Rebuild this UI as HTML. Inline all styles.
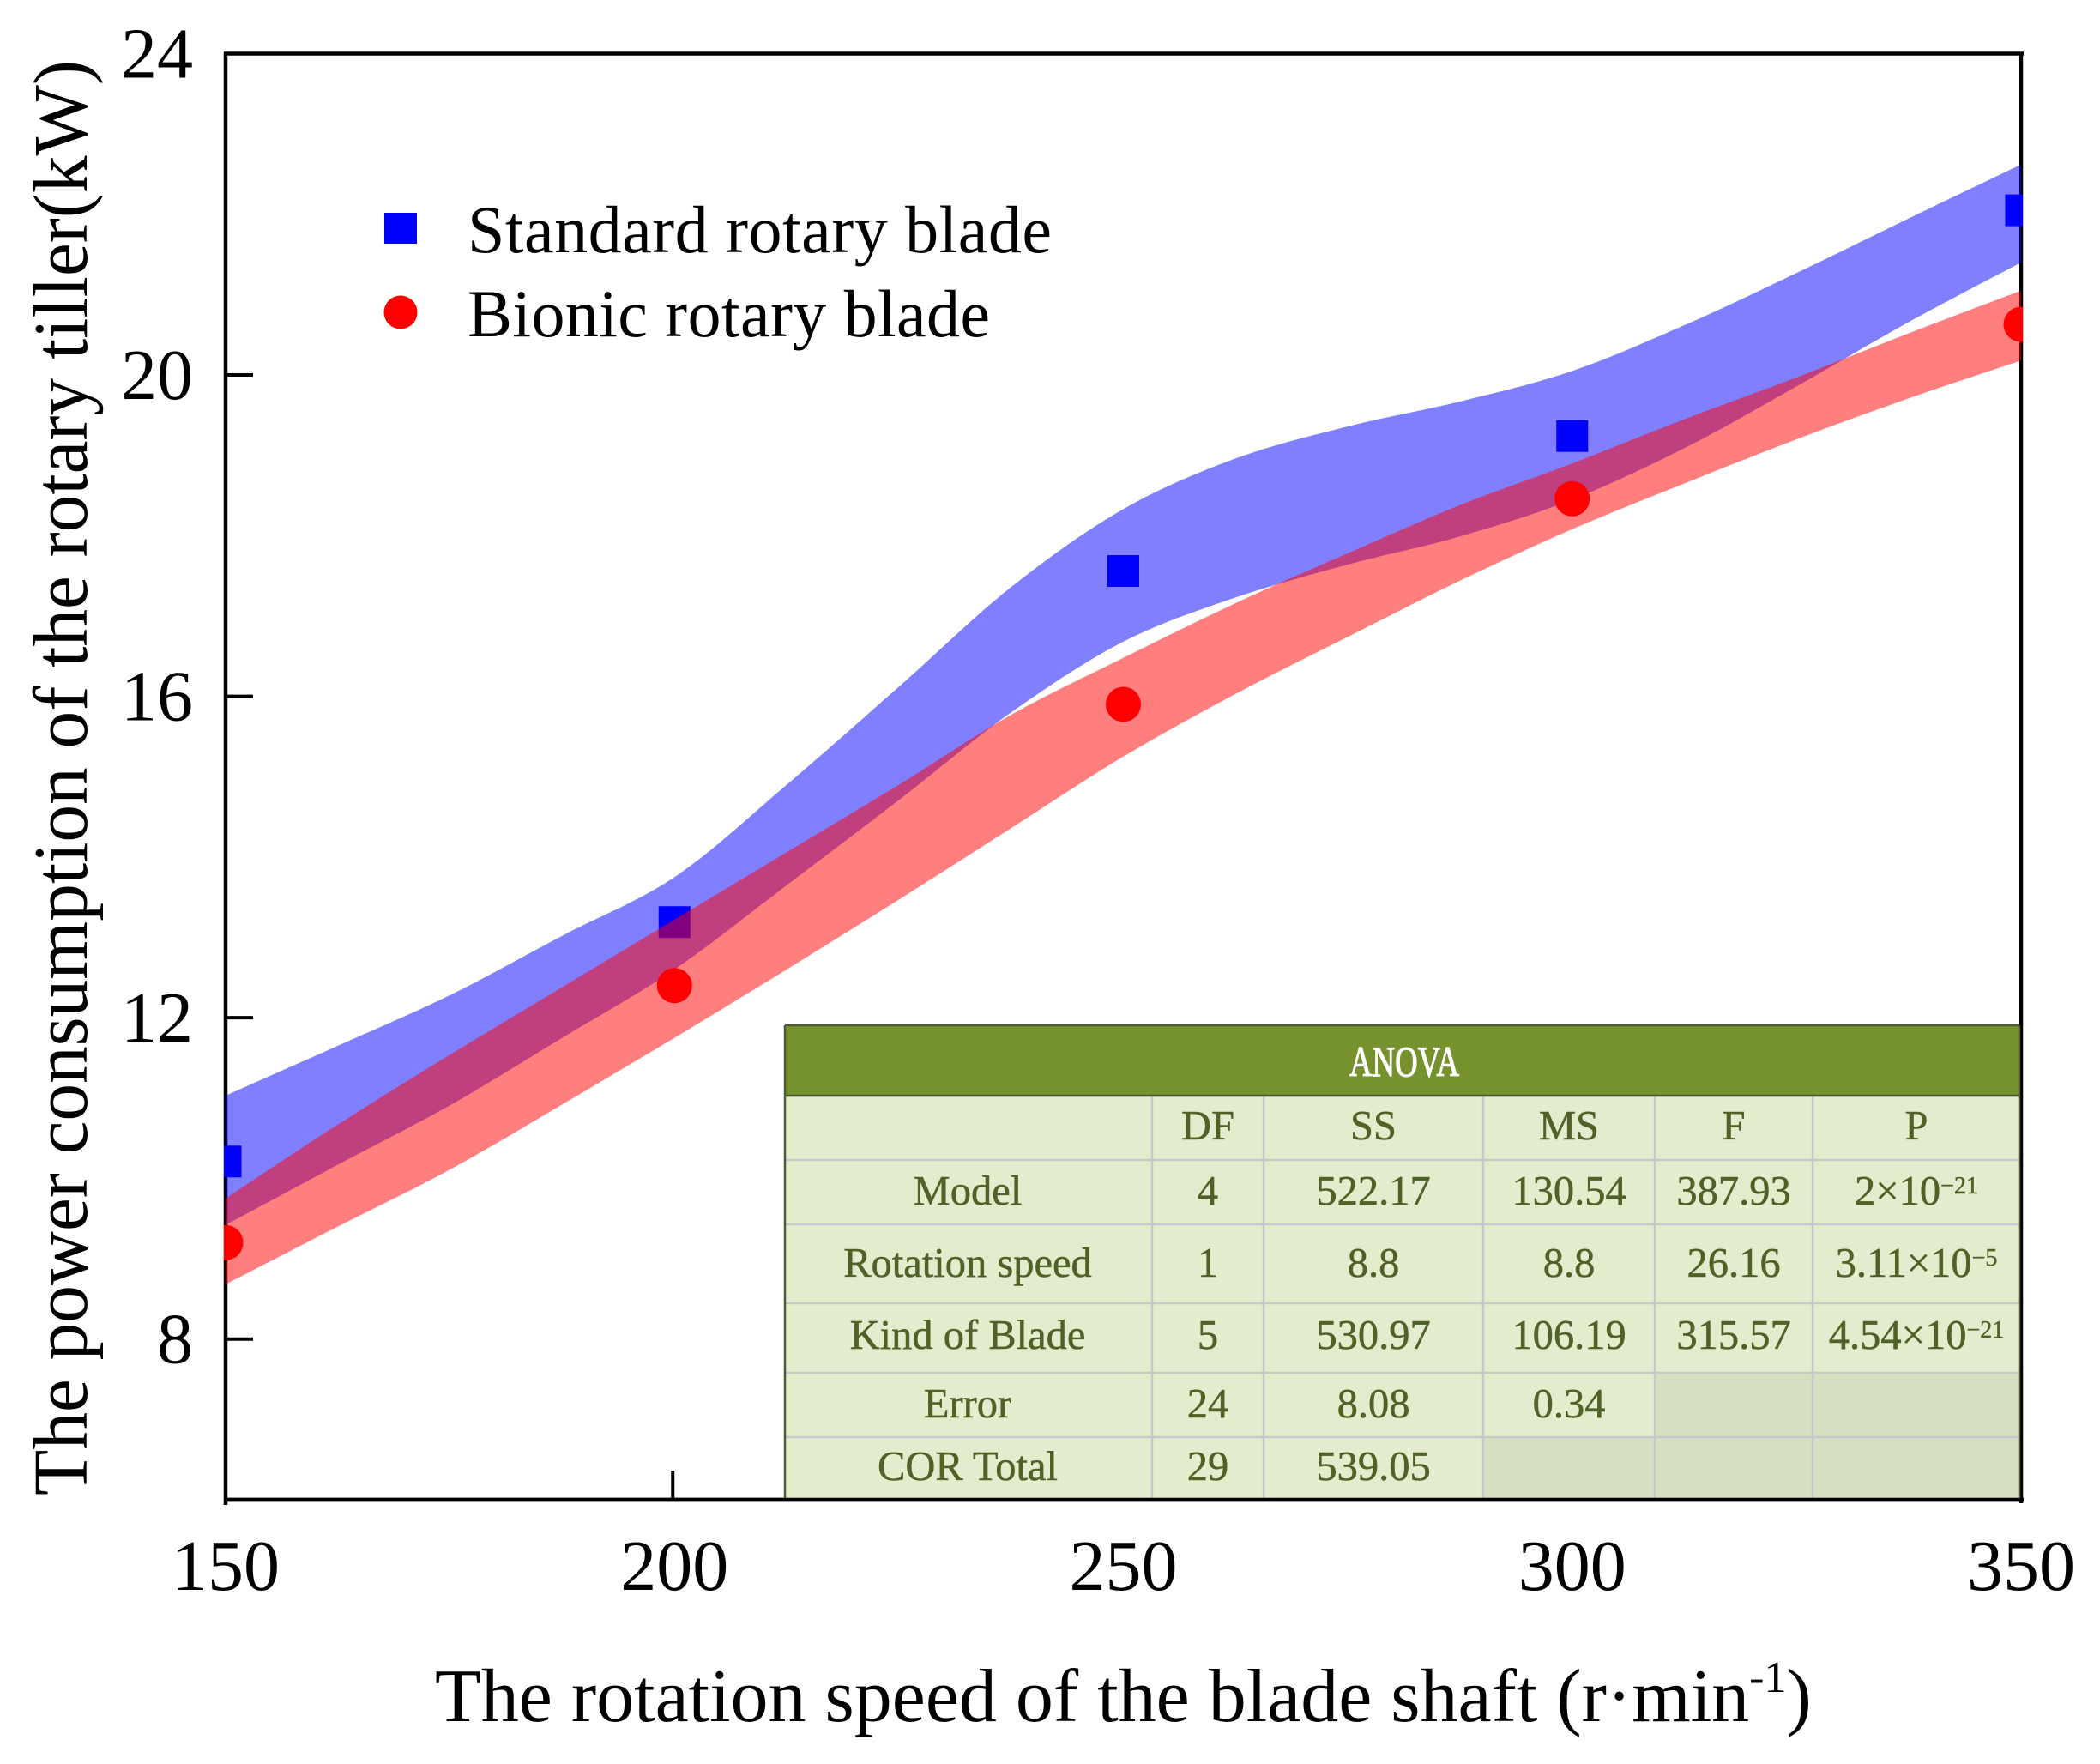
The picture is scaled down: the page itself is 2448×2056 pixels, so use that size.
<!DOCTYPE html>
<html lang="en">
<head>
<meta charset="utf-8">
<title>Power consumption of the rotary tiller</title>
<style>
  html, body { margin: 0; padding: 0; background: #fff; }
  svg { display: block; }
  text { font-family: "Liberation Serif", serif; }
  .tick-label { font-size: 84px; fill: #000; }
  .cell { font-size: 48.5px; fill: #4f6228; stroke: #4f6228; stroke-width: 0.5; text-anchor: middle; }
  .sup { font-size: 28px; }
</style>
</head>
<body>
<svg id="chart" xmlns="http://www.w3.org/2000/svg" width="2448" height="2056" viewBox="0 0 2448 2056">
  <defs>
    <clipPath id="plot-clip"><rect x="261" y="60" width="2097" height="1690"></rect></clipPath>
  </defs>
  <rect x="0" y="0" width="2448" height="2056" fill="#ffffff"></rect>
  <g id="axes"></g>
  <g id="marks" clip-path="url(#plot-clip)"></g>

  <g>
    <rect x="448" y="248" width="38" height="36" fill="#0000ff"></rect>
    <text x="545" y="294" font-size="78" textLength="681" fill="#000">Standard rotary blade</text>
    <ellipse cx="467" cy="364" rx="19.5" ry="19.5" fill="#ff0000"></ellipse>
    <text x="545" y="392" font-size="78" textLength="609" fill="#000">Bionic rotary blade</text>
  </g>

  <text x="507" y="2006" font-size="88" fill="#000">The rotation speed of the blade shaft (r·min<tspan font-size="52" dy="-34">-1</tspan><tspan dy="34">)</tspan></text>
  <text transform="translate(101,1743) rotate(-90)" x="0" y="0" font-size="90" textLength="1673" lengthAdjust="spacingAndGlyphs" fill="#000">The power consumption of the rotary tiller(kW)</text>

  <g>
    <rect x="915" y="1277" width="1439" height="470" fill="#e3edcd"></rect>
    <rect x="1929" y="1600" width="184" height="75" fill="#d6dfc2"></rect>
    <rect x="2113" y="1600" width="241" height="75" fill="#d6dfc2"></rect>
    <rect x="1729" y="1675" width="200" height="72" fill="#d6dfc2"></rect>
    <rect x="1929" y="1675" width="184" height="72" fill="#d6dfc2"></rect>
    <rect x="2113" y="1675" width="241" height="72" fill="#d6dfc2"></rect>
    <rect x="915" y="1195" width="1439" height="82" fill="#76922d"></rect>
    <g stroke="#c5c9c8" stroke-width="2.5">
      <line x1="915" x2="2354" y1="1352" y2="1352"></line>
      <line x1="915" x2="2354" y1="1427" y2="1427"></line>
      <line x1="915" x2="2354" y1="1519" y2="1519"></line>
      <line x1="915" x2="2354" y1="1600" y2="1600"></line>
      <line x1="915" x2="2354" y1="1675" y2="1675"></line>
      <line x1="1343" x2="1343" y1="1277" y2="1747"></line>
      <line x1="1473" x2="1473" y1="1277" y2="1747"></line>
      <line x1="1729" x2="1729" y1="1277" y2="1747"></line>
      <line x1="1929" x2="1929" y1="1277" y2="1747"></line>
      <line x1="2113" x2="2113" y1="1277" y2="1747"></line>
    </g>
    <g stroke="#4f5a38" fill="none">
      <line x1="915" x2="2354" y1="1195" y2="1195" stroke-width="2.5"></line>
      <line x1="915" x2="2354" y1="1277" y2="1277" stroke-width="2.5"></line>
      <line x1="915" x2="915" y1="1195" y2="1747" stroke-width="2.5"></line>
      <line x1="2354" x2="2354" y1="1195" y2="1747" stroke-width="2.5"></line>
    </g>
    <text x="1637" y="1254" font-size="50" textLength="128" lengthAdjust="spacingAndGlyphs" text-anchor="middle" fill="#ffffff" stroke="#ffffff" stroke-width="1.2">ANOVA</text>

    <g>
      <text class="cell" x="1408" y="1328">DF</text>
      <text class="cell" x="1601" y="1328">SS</text>
      <text class="cell" x="1829" y="1328">MS</text>
      <text class="cell" x="2021" y="1328">F</text>
      <text class="cell" x="2234" y="1328">P</text>
    </g>
    <g>
      <text class="cell" x="1128" y="1404">Model</text>
      <text class="cell" x="1408" y="1404">4</text>
      <text class="cell" x="1601" y="1404">522.17</text>
      <text class="cell" x="1829" y="1404">130.54</text>
      <text class="cell" x="2021" y="1404">387.93</text>
      <text class="cell" x="2234" y="1404">2×10<tspan class="sup" dy="-13">−21</tspan></text>
    </g>
    <g>
      <text class="cell" x="1128" y="1488">Rotation speed</text>
      <text class="cell" x="1408" y="1488">1</text>
      <text class="cell" x="1601" y="1488">8.8</text>
      <text class="cell" x="1829" y="1488">8.8</text>
      <text class="cell" x="2021" y="1488">26.16</text>
      <text class="cell" x="2234" y="1488">3.11×10<tspan class="sup" dy="-13">−5</tspan></text>
    </g>
    <g>
      <text class="cell" x="1128" y="1572">Kind of Blade</text>
      <text class="cell" x="1408" y="1572">5</text>
      <text class="cell" x="1601" y="1572">530.97</text>
      <text class="cell" x="1829" y="1572">106.19</text>
      <text class="cell" x="2021" y="1572">315.57</text>
      <text class="cell" x="2234" y="1572">4.54×10<tspan class="sup" dy="-13">−21</tspan></text>
    </g>
    <g>
      <text class="cell" x="1128" y="1652">Error</text>
      <text class="cell" x="1408" y="1652">24</text>
      <text class="cell" x="1601" y="1652">8.08</text>
      <text class="cell" x="1829" y="1652">0.34</text>
    </g>
    <g>
      <text class="cell" x="1128" y="1725">COR Total</text>
      <text class="cell" x="1408" y="1725">29</text>
      <text class="cell" x="1601" y="1725">539.05</text>
    </g>
  </g>
  <g id="frame-top"></g>
</svg>

<script>
// Axis tick labels
const xTicks = [150, 200, 250, 300, 350];
const yTicks = [8, 12, 16, 20, 24];

// Measured means
const pointSpeeds = [150, 200, 250, 300, 350];
const standardValues = [10.21, 13.19, 17.56, 19.24, 22.05];
const bionicValues = [9.2, 12.4, 15.9, 18.46, 20.63];

// Confidence bands
const bandSpeeds = [150, 162.5, 175, 187.5, 200, 212.5, 225, 237.5, 250, 262.5, 275, 287.5, 300, 312.5, 325, 337.5, 350];
const standardUpper = [11.03, 11.65, 12.28, 13.02, 13.75, 14.90, 16.12, 17.36, 18.33, 18.96, 19.36, 19.67, 20.05, 20.62, 21.27, 21.95, 22.62];
const standardLower = [9.42, 10.17, 10.91, 11.75, 12.60, 13.65, 14.71, 15.80, 16.68, 17.23, 17.64, 17.99, 18.45, 19.09, 19.86, 20.66, 21.40];
const bionicUpper = [9.75, 10.67, 11.54, 12.38, 13.22, 14.06, 14.90, 15.77, 16.48, 17.16, 17.78, 18.38, 18.90, 19.45, 19.97, 20.52, 21.05];
const bionicLower = [8.68, 9.40, 10.11, 10.92, 11.75, 12.60, 13.47, 14.36, 15.25, 16.03, 16.74, 17.44, 18.08, 18.65, 19.20, 19.71, 20.18];

// Axis domains
const xDomain = [150, 350];
const yDomain = [6, 24];

const plot = { left: 263, right: 2356, top: 62.5, bottom: 1748 };
function xScale(v) {
  return plot.left + (v - xDomain[0]) / (xDomain[1] - xDomain[0]) * (plot.right - plot.left);
}
function yScale(v) {
  return plot.bottom - (v - yDomain[0]) / (yDomain[1] - yDomain[0]) * (plot.bottom - plot.top);
}

const NS = 'http://www.w3.org/2000/svg';
function make(tag, parent, props) {
  const el = document.createElementNS(NS, tag);
  for (const k in props) el.setAttribute(k, props[k]);
  parent.appendChild(el);
  return el;
}

function smoothSegments(pts) {
  let d = '';
  for (let i = 0; i < pts.length - 1; i++) {
    const p0 = pts[Math.max(i - 1, 0)];
    const p1 = pts[i];
    const p2 = pts[i + 1];
    const p3 = pts[Math.min(i + 2, pts.length - 1)];
    const c1x = p1[0] + (p2[0] - p0[0]) / 6;
    const c1y = p1[1] + (p2[1] - p0[1]) / 6;
    const c2x = p2[0] - (p3[0] - p1[0]) / 6;
    const c2y = p2[1] - (p3[1] - p1[1]) / 6;
    d += ' C' + c1x.toFixed(1) + ' ' + c1y.toFixed(1) + ' ' + c2x.toFixed(1) + ' ' + c2y.toFixed(1) + ' ' + p2[0].toFixed(1) + ' ' + p2[1].toFixed(1);
  }
  return d;
}

function bandPath(upper, lower) {
  const top = bandSpeeds.map(function (s, i) { return [xScale(s), yScale(upper[i])]; });
  const bottom = bandSpeeds.map(function (s, i) { return [xScale(s), yScale(lower[i])]; }).reverse();
  return 'M' + top[0][0].toFixed(1) + ' ' + top[0][1].toFixed(1) + smoothSegments(top) +
    ' L' + bottom[0][0].toFixed(1) + ' ' + bottom[0][1].toFixed(1) + smoothSegments(bottom) + ' Z';
}

const axes = document.getElementById('axes');
const marks = document.getElementById('marks');

// Frame
const leftAxis = make('line', axes, { x1: plot.left, x2: plot.left, y1: plot.top - 2, y2: plot.bottom + 6, stroke: '#000', 'stroke-width': 4.5 });


const rightAxis = make('line', axes, { x1: plot.right, x2: plot.right, y1: plot.top - 2, y2: plot.bottom + 4, stroke: '#000', 'stroke-width': 4.5 });


const topAxis = make('line', axes, { x1: plot.left - 2, x2: plot.right + 3, y1: plot.top, y2: plot.top, stroke: '#000', 'stroke-width': 4.5 });


const bottomAxis = make('line', axes, { x1: plot.left - 2, x2: plot.right + 3, y1: plot.bottom, y2: plot.bottom, stroke: '#000', 'stroke-width': 4.5 });



// Ticks and labels
yTicks.forEach(function (t) {
  const y = yScale(t);
  if (t < yDomain[1]) {
    const tick = make('line', axes, { x1: plot.left, x2: plot.left + 32, y1: y, y2: y, stroke: '#000', 'stroke-width': 4 });
    
    
  }
  const label = make('text', axes, { x: 225, y: y + 28, 'text-anchor': 'end', class: 'tick-label' });
  label.textContent = String(t);
  
  
});
xTicks.forEach(function (t) {
  const x = xScale(t);
  if (t > xDomain[0] && t < xDomain[1]) {
    const tick = make('line', axes, { x1: x - 2, x2: x - 2, y1: plot.bottom, y2: plot.bottom - 34, stroke: '#000', 'stroke-width': 4 });
    
    
  }
  const label = make('text', axes, { x: x, y: 1853, 'text-anchor': 'middle', class: 'tick-label' });
  label.textContent = String(t);
  
  
});

// Standard series: band then squares
const standardBand = make('path', marks, { d: bandPath(standardUpper, standardLower), fill: '#0000ff', 'fill-opacity': 0.5 });


pointSpeeds.forEach(function (s, i) {
  const size = 37;
  const square = make('rect', marks, { x: xScale(s) - size / 2, y: yScale(standardValues[i]) - size / 2, width: size, height: size, fill: '#0000ff' });
  
  
});

// Bionic series: band then circles
const bionicBand = make('path', marks, { d: bandPath(bionicUpper, bionicLower), fill: '#ff0000', 'fill-opacity': 0.5 });


pointSpeeds.forEach(function (s, i) {
  const circle = make('circle', marks, { cx: xScale(s), cy: yScale(bionicValues[i]), r: 20.5, fill: '#ff0000' });
  
  
});

// Bottom axis sits above the table edge
const overlay = document.getElementById('frame-top');
const overlayBottom = make('line', overlay, { x1: plot.left - 2, x2: plot.right + 3, y1: plot.bottom, y2: plot.bottom, stroke: '#000', 'stroke-width': 4.5 });


</script>
</body>
</html>
